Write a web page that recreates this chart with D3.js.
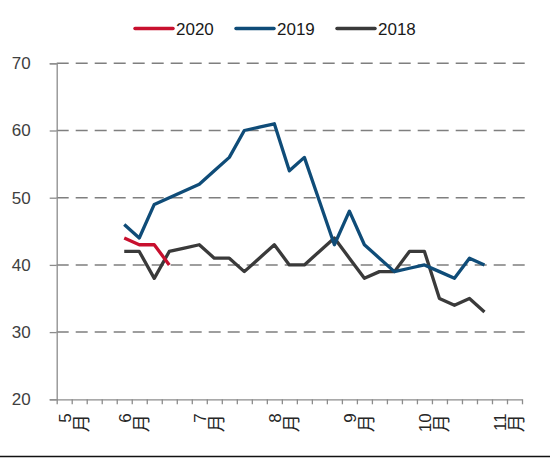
<!DOCTYPE html>
<html>
<head>
<meta charset="utf-8">
<script src="https://cdn.jsdelivr.net/npm/d3@7"></script>
<style>
  body { margin: 0; background: #fff; }
  text { font-family: "Liberation Sans", Arial, sans-serif; }
</style>
</head>
<body>
<div id="chart"></div>
<script>

// weekly categories on the x axis, first series point sits in week 4
var weekCount = 31;
var firstWeek = 4;

// month labels and the week they start at
var monthLabels = ["5", "6", "7", "8", "9", "10", "11"];
var monthWeeks = [1, 5, 10, 15, 20, 25, 30];

var yTicks = [20, 30, 40, 50, 60, 70];

var seriesNames = ["2020", "2019", "2018"];
var s2020 = [44, 43, 43, 40];
var s2019 = [46, 44, 49, 50, 51, 52, 54, 56, 60, 60.5, 61, 54, 56, 49.5, 43, 48, 43, 41, 39, 39.5, 40, 39, 38, 41, 40];
var s2018 = [42, 42, 38, 42, 42.5, 43, 41, 41, 39, 41, 43, 40, 40, 42, 44, 41, 38, 39, 39, 42, 42, 35, 34, 35, 33];

var width = 550,
	height = 458;

var colors = {"2020": "#c8102e", "2019": "#0f4c78", "2018": "#3a3a3a"};

var svg = d3.select("#chart").append("svg")
	.attr("width", width)
	.attr("height", height);

var x = d3.scaleLinear().domain([0, weekCount]).range([56.7, 522]);
var y = d3.scaleLinear().domain([20, 70]).range([399.3, 63.3]);

//gridlines
svg.append("g").selectAll("line")
	.data(yTicks.filter(function(d) { return d > 20; }))
	.enter().append("line")
	.attr("x1", x(0))
	.attr("x2", x(weekCount) + 3)
	.attr("y1", function(d) { return y(d); })
	.attr("y2", function(d) { return y(d); })
	.attr("stroke", "#7f7f7f")
	.attr("stroke-width", 1.5)
	.attr("stroke-dasharray", "12,7");

//y axis
var yAxis = svg.append("g")
	.attr("transform", "translate(" + x(0) + ",0)")
	.call(d3.axisLeft(y).tickValues(yTicks).tickSize(7).tickPadding(19));
yAxis.select(".domain").attr("stroke", "#8c8c8c").attr("stroke-width", 1.3);
yAxis.selectAll(".tick line").attr("stroke", "#8c8c8c").attr("stroke-width", 1.3);
yAxis.selectAll("text")
	.attr("font-size", 17)
	.attr("fill", "#404040")
	.style("font-family", "'Liberation Sans', Arial, sans-serif");

//x axis, one small tick between each week
var xAxis = svg.append("g")
	.attr("transform", "translate(0," + y(20) + ")")
	.call(d3.axisBottom(x).tickValues(d3.range(weekCount + 1)).tickSize(5).tickSizeOuter(0).tickFormat(""));
xAxis.select(".domain").attr("stroke", "#8c8c8c").attr("stroke-width", 1.3);
xAxis.selectAll(".tick line").attr("stroke", "#8c8c8c").attr("stroke-width", 1.3);

//month labels are rotated, number on one line and 月 on the next
var months = svg.append("g").selectAll("g")
	.data(monthLabels)
	.enter().append("g")
	.attr("transform", function(d, i) {
		return "translate(" + x(monthWeeks[i]) + "," + y(20) + ") rotate(-90)";
	});
months.append("text")
	.attr("x", -14)
	.attr("y", -1)
	.attr("text-anchor", "end")
	.attr("font-size", 17)
	.attr("fill", "#262626")
	.text(function(d) { return d; });
months.append("text")
	.attr("x", -15)
	.attr("y", 16)
	.attr("text-anchor", "end")
	.attr("font-size", 18)
	.attr("fill", "#262626")
	.style("font-family", "'Noto Sans CJK SC', sans-serif")
	.text("月");

//series lines
var line = d3.line()
	.x(function(d, i) { return x(firstWeek + i + 0.5); })
	.y(function(d) { return y(d); });

var seriesData = {"2020": s2020, "2019": s2019, "2018": s2018};

svg.append("g").selectAll("path")
	.data(seriesNames.slice().reverse())
	.enter().append("path")
	.attr("d", function(d) { return line(seriesData[d]); })
	.attr("fill", "none")
	.attr("stroke", function(d) { return colors[d]; })
	.attr("stroke-width", 3.3)
	.attr("stroke-linejoin", "round");

//legend
var legendX = [135, 236, 337];
var legend = svg.append("g").selectAll("g")
	.data(seriesNames)
	.enter().append("g")
	.attr("transform", function(d, i) { return "translate(" + legendX[i] + ",28.5)"; });
legend.append("line")
	.attr("x1", 0)
	.attr("x2", 38)
	.attr("stroke", function(d) { return colors[d]; })
	.attr("stroke-width", 3.5)
	.attr("stroke-linecap", "round");
legend.append("text")
	.attr("x", 41)
	.attr("y", 6)
	.attr("font-size", 17)
	.attr("fill", "#1a1a1a")
	.text(function(d) { return d; });

//bottom border
svg.append("line")
	.attr("x1", 0)
	.attr("x2", width)
	.attr("y1", 456.5)
	.attr("y2", 456.5)
	.attr("stroke", "#111")
	.attr("stroke-width", 1.5);

</script>
</body>
</html>
